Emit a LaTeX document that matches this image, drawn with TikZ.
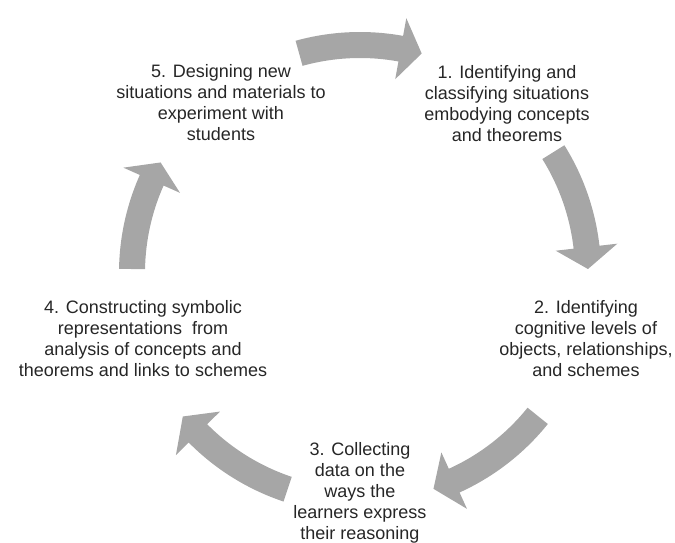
\documentclass[tikz,border=0pt]{standalone}
\usepackage{fontspec}
\setmainfont{Liberation Sans}
\definecolor{arrowgray}{RGB}{166,166,166}
\definecolor{textgray}{RGB}{38,38,38}
\begin{document}
\begin{tikzpicture}[x=1bp,y=-1bp,
  stagetext/.style={align=center, font=\fontsize{18bp}{21bp}\selectfont,
    text=textgray, inner sep=0pt},
  blockarrow/.style={fill=arrowgray}]
\useasboundingbox (0,0) rectangle (675,543);

% curved block arrows around the cycle (angles clockwise from the top)
\begin{scope}[shift={(360,273)}]
  \foreach \ta/\hb/\tp in {-15.5/10.3/15.7, 58/83.5/89, 128.8/155.6/161.2,
                           198.5/225.3/231, 271/294/299} {
    \fill[blockarrow] ({\ta-90}:241)
      arc[start angle={\ta-90}, end angle={\hb-90}, radius=241]
      -- ({\hb-90}:259) -- ({\tp-90}:228) -- ({\hb-90}:197) -- ({\hb-90}:215)
      arc[start angle={\hb-90}, end angle={\ta-90}, radius=215] -- cycle;
  }
\end{scope}

% stage labels
\node[stagetext] (s1) at (507,104) {1. Identifying and\\classifying situations\\embodying concepts\\and theorems};
\node[stagetext] (s2) at (586,339) {2. Identifying\\cognitive levels of\\objects, relationships,\\and schemes};
\node[stagetext] (s3) at (360,493) {3. Collecting\\data on the\\ways the\\learners express\\their reasoning};
\node[stagetext] (s4) at (143,339) {4. Constructing symbolic\\representations\ \ from\\analysis of concepts and\\theorems and links to schemes};
\node[stagetext] (s5) at (221,103) {5. Designing new\\situations and materials to\\experiment with\\students};
\end{tikzpicture}
\end{document}
